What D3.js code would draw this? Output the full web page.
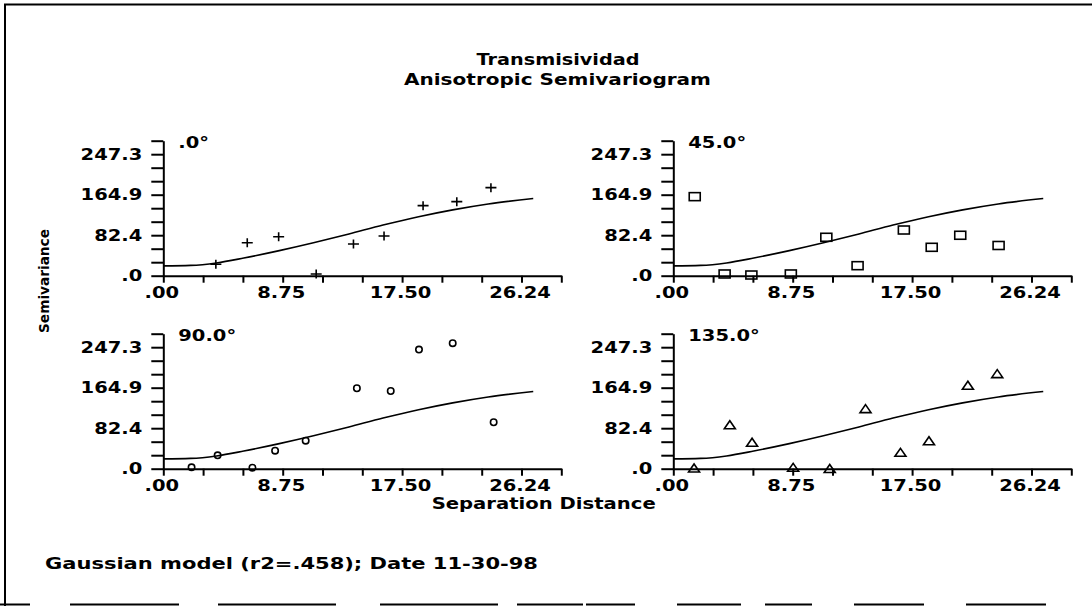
<!DOCTYPE html>
<html><head><meta charset="utf-8">
<script src="https://cdn.jsdelivr.net/npm/d3@7"></script>
<style>body{margin:0;background:#fff}svg{display:block}</style>
</head><body>
<svg id="c" width="1092" height="606"></svg>
<script>
// ---------- data ----------
const chartTitle = "Transmisividad";
const chartSubtitle = "Anisotropic Semivariogram";
const xAxisTitle = "Separation Distance";
const yAxisTitle = "Semivariance";
const footerText = "Gaussian model (r2=.458); Date 11-30-98";
const panelTitles = [".0°", "45.0°", "90.0°", "135.0°"];
const xTickLabels = [".00", "8.75", "17.50", "26.24"];
const yTickLabels = [".0", "82.4", "164.9", "247.3"];
const xMaxLabel = 26.24;
const yMaxLabel = 247.3;

// lag distance / semivariance per direction
const dir0H = [3.85, 6.15, 8.45, 11.2, 13.93, 16.17, 19.03, 21.5, 24.0];
const dir0V = [23.2, 67.2, 79.4, 3.5, 64.6, 80.9, 142.6, 150.7, 179.2];
const dir45H = [1.57, 3.76, 5.72, 8.61, 11.21, 13.5, 16.89, 18.93, 21.02, 23.83];
const dir45V = [160.9, 3.5, 1.4, 3.5, 78.2, 20.4, 93.0, 57.8, 82.3, 61.5];
const dir90H = [2.07, 3.98, 6.53, 8.19, 10.43, 14.18, 16.66, 18.73, 21.2, 24.2];
const dir90V = [2.8, 27.3, 2.0, 36.7, 57.0, 163.7, 158.2, 242.4, 255.4, 94.5];
const dir135H = [1.52, 4.14, 5.77, 8.78, 11.46, 14.08, 16.64, 18.73, 21.58, 23.73];
const dir135V = [1.4, 89.6, 53.8, 2.8, 0.5, 122.2, 33.4, 57.0, 169.9, 193.5];

// fitted Gaussian model
const modelH = [0, 2.0, 3.9, 5.9, 8.5, 11.0, 13.6, 16.1, 18.7, 21.2, 23.8, 27.1];
const modelV = [20, 21, 26, 36, 51, 67, 85, 103, 120, 134, 146, 157];

// ---------- layout ----------
const W = 1092, H = 606;
const FONT = "'DejaVu Sans', sans-serif";
const svg = d3.select("#c");
const xStep = xMaxLabel / 9, yStep = yMaxLabel / 9;
const plotW = 398, plotH = 135;

function stretch(sel, factor, target) {
  sel.each(function () {
    const w = this.getComputedTextLength();
    if (!w) return;
    d3.select(this).attr("textLength", target || w * factor).attr("lengthAdjust", "spacingAndGlyphs");
  });
}
function txt(s, x, y, anchor, size) {
  return svg.append("text").attr("x", x).attr("y", y).attr("text-anchor", anchor)
    .attr("font-family", FONT).attr("font-weight", "bold").attr("font-size", size || 15)
    .attr("fill", "#000").text(s);
}

// border (scanned frame)
svg.append("path").attr("d", `M5,${H}V4.5H${W}`).attr("fill", "none").attr("stroke", "#000").attr("stroke-width", 2);
const bottomSegs = [[0, 30], [70, 179], [218, 336], [380, 498], [517, 583], [586, 635], [677, 741], [765, 812], [854, 924], [966, 1046]];
svg.selectAll(".seg").data(bottomSegs).join("line").attr("class", "seg")
  .attr("x1", d => d[0]).attr("x2", d => d[1]).attr("y1", 604.5).attr("y2", 604.5)
  .attr("stroke", "#000").attr("stroke-width", 2);

const panels = [
  { title: panelTitles[0], h: dir0H, v: dir0V, marker: "plus", x0: 163.3, y0: 275.7 },
  { title: panelTitles[1], h: dir45H, v: dir45V, marker: "square", x0: 673.3, y0: 275.7 },
  { title: panelTitles[2], h: dir90H, v: dir90V, marker: "circle", x0: 163.3, y0: 468.7 },
  { title: panelTitles[3], h: dir135H, v: dir135V, marker: "triangle", x0: 673.3, y0: 468.7 }
];

panels.forEach(p => {
  const x = d3.scaleLinear().domain([0, 10 * xStep]).range([p.x0, p.x0 + plotW]);
  const y = d3.scaleLinear().domain([0, 10 * yStep]).range([p.y0, p.y0 - plotH]);

  const gx = svg.append("g").attr("transform", `translate(0,${p.y0})`)
    .call(d3.axisBottom(x).tickValues(d3.range(11).map(i => i * xStep))
      .tickSize(7).tickSizeOuter(0).tickPadding(5)
      .tickFormat((d, i) => i % 3 === 0 ? xTickLabels[i / 3] : ""));
  const gy = svg.append("g").attr("transform", `translate(${p.x0},0)`)
    .call(d3.axisLeft(y).tickValues(d3.range(11).map(i => i * yStep))
      .tickSize(12).tickSizeOuter(0).tickPadding(9)
      .tickFormat((d, i) => i % 3 === 0 ? yTickLabels[i / 3] : ""));
  [gx, gy].forEach(g => {
    g.attr("font-family", FONT).attr("font-size", 15).attr("font-weight", "bold");
    g.selectAll("line,.domain").attr("stroke", "#000").attr("stroke-width", 2);
    g.selectAll("text").attr("fill", "#000");
    stretch(g.selectAll("text"), 1.3);
  });
  gx.selectAll("text").attr("dx", -2);

  // model curve
  const line = d3.line().x((d, i) => x(modelH[i])).y((d, i) => y(modelV[i])).curve(d3.curveMonotoneX);
  svg.append("path").datum(modelV).attr("d", line).attr("fill", "none")
    .attr("stroke", "#000").attr("stroke-width", 1.6);

  // points
  const pts = p.h.map((h, i) => [x(h), y(p.v[i])]);
  const g = svg.append("g").attr("fill", "none").attr("stroke", "#000").attr("stroke-width", 1.6);
  pts.forEach(([px, py]) => {
    if (p.marker === "plus") g.append("path").attr("d", `M${px - 5.5},${py}H${px + 5.5}M${px},${py - 4.5}V${py + 4.5}`);
    else if (p.marker === "square") g.append("rect").attr("x", px - 5.5).attr("y", py - 4).attr("width", 11).attr("height", 8);
    else if (p.marker === "circle") g.append("circle").attr("cx", px).attr("cy", py).attr("r", 3.2);
    else g.append("path").attr("d", `M${px - 5.5},${py + 4}L${px},${py - 4}L${px + 5.5},${py + 4}Z`);
  });

  // panel title
  stretch(txt(p.title, p.x0 + 15, p.y0 - plotH + 7, "start"), 1.3);
});

// titles and labels
stretch(txt(chartTitle, 558, 65, "middle"), 1, 163);
stretch(txt(chartSubtitle, 557.5, 85, "middle"), 1, 307);
stretch(txt(xAxisTitle, 543.7, 509, "middle"), 1, 224);
stretch(txt(footerText, 45, 569, "start"), 1, 493);
const yl = svg.append("text").attr("transform", "translate(49,281) rotate(-90)").attr("text-anchor", "middle")
  .attr("font-family", FONT).attr("font-weight", "bold").attr("font-size", 14.5).attr("fill", "#000").text(yAxisTitle);
stretch(yl, 1, 104);
</script>
</body></html>
